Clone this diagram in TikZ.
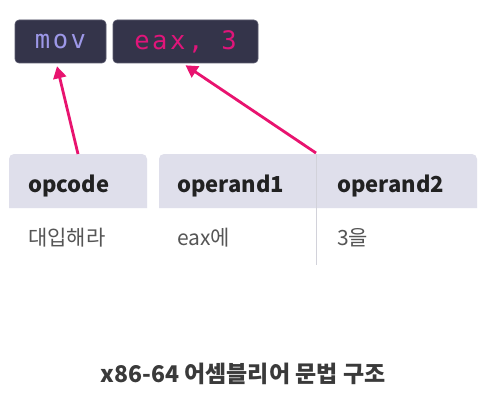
\documentclass[tikz,border=0pt]{standalone}
\usepackage{fontspec}
\setmainfont{Noto Sans CJK KR}
\newfontfamily\krfont{Noto Sans CJK KR}
\newfontfamily\codefont[LetterSpace=10]{DejaVu Sans Mono}
\usetikzlibrary{arrows.meta}
\definecolor{boxfill}{HTML}{34344A}
\definecolor{boxedge}{HTML}{5A5A6E}
\definecolor{movcol}{HTML}{9D98E8}
\definecolor{eaxcol}{HTML}{E0157A}
\definecolor{arrowcol}{HTML}{E8136F}
\definecolor{headfill}{HTML}{DFDFEB}
\definecolor{headtext}{HTML}{222222}
\definecolor{bodytext}{HTML}{555555}
\definecolor{divcol}{HTML}{D2D2DA}
\definecolor{captext}{HTML}{3A3A3A}
\tikzset{
  codebox/.style={draw=boxedge, line width=0.6pt, fill=boxfill, rounded corners=4pt, inner sep=0pt, font=\codefont\fontsize{25.5}{25.5}\selectfont},
  headlabel/.style={anchor=base west, inner sep=0pt, text=headtext, font=\krfont\bfseries\fontsize{22}{22}\selectfont},
  bodylabel/.style={anchor=base west, inner sep=0pt, text=bodytext, font=\krfont\fontsize{21}{21}\selectfont},
  pointer/.style={draw=arrowcol, line width=2.8pt, -{Triangle[length=12pt,width=13pt]}, shorten <=0pt},
}
\begin{document}
\begin{tikzpicture}[x=1pt,y=-1pt]
\useasboundingbox[fill=white] (0,0) rectangle (486,409);
% code boxes
\node[codebox, minimum width=91pt, minimum height=43pt, text=movcol] (mov) at (60.5,41.5) {mov};
\node[codebox, minimum width=145pt, minimum height=43pt, text=eaxcol] (eax) at (185.5,41.5) {eax, 3};
% table headers
\fill[headfill] (9,208) [rounded corners=5pt] -- (9,154) -- (147,154) [sharp corners] -- (147,208) -- cycle;
\fill[headfill] (159,208) [rounded corners=5pt] -- (159,154) -- (477,154) [sharp corners] -- (477,208) -- cycle;
\coordinate (optop) at (78,154);
\coordinate (divtop) at (316,153);
\coordinate (divbot) at (316,265);
\draw[divcol, line width=0.8pt] (316,154) -- (divbot);
\node[headlabel] (h1) at (28,192) {opcode};
\node[headlabel] (h2) at (177,192) {operand1};
\node[headlabel] (h3) at (337,192) {operand2};
\node[bodylabel] (b1) at (28,245) {대입해라};
\node[bodylabel] (b2) at (177,245) {eax에};
\node[bodylabel] (b3) at (337,245) {3을};
% arrows
\draw[pointer] (optop) -- ([xshift=-3.5pt,yshift=-3pt]mov.south);
\draw[pointer] (divtop) -- ([yshift=-2pt]eax.south);
% caption
\node[inner sep=0pt, anchor=base, text=captext, font=\krfont\bfseries\fontsize{23}{23}\selectfont] (cap) at (243,382) {x86-64 어셈블리어 문법 구조};
\end{tikzpicture}
\end{document}
